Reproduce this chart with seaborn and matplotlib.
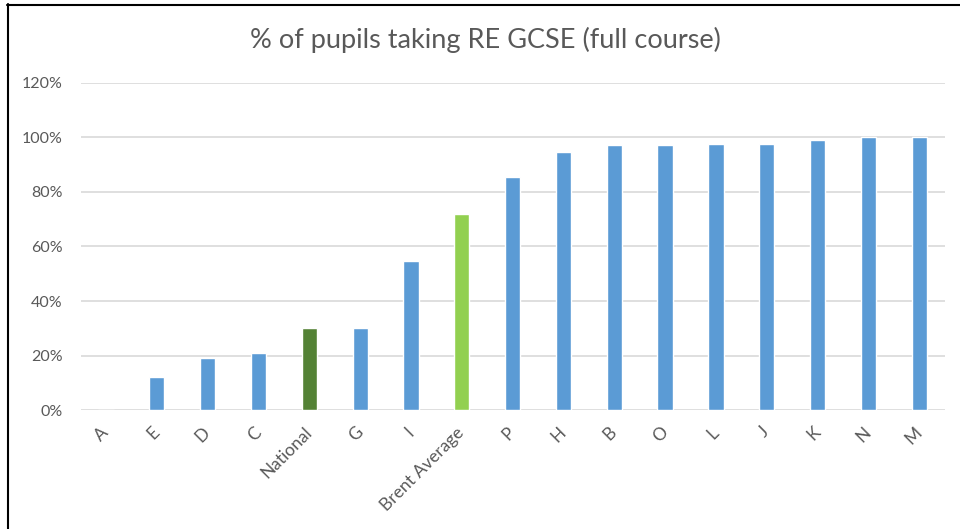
import matplotlib
matplotlib.use("Agg")
import matplotlib.pyplot as plt
from matplotlib.lines import Line2D
from matplotlib.ticker import PercentFormatter
import pandas as pd
import seaborn as sns

# data
schools = ["A", "E", "D", "C", "National", "G", "I", "Brent Average",
           "P", "H", "B", "O", "L", "J", "K", "N", "M"]
pct_taking = [0.0, 12.2, 19.2, 21.0, 30.0, 30.0, 54.8, 71.9,
              85.5, 94.7, 97.1, 97.1, 97.6, 97.6, 98.9, 100.0, 100.0]

blue = "#5B9BD5"
bar_colours = {s: blue for s in schools}
bar_colours["National"] = "#548235"
bar_colours["Brent Average"] = "#92D050"

text_grey = "#595959"

sns.set_theme(style="white")
plt.rcParams["font.family"] = ["Lato", "DejaVu Sans"]

df = pd.DataFrame({"school": schools, "pct": pct_taking})

fig = plt.figure(figsize=(9.6, 5.29), dpi=100)
ax = fig.add_axes([0.084, 0.2244, 0.9, 0.6193])

sns.barplot(data=df, x="school", y="pct", hue="school", palette=bar_colours,
            width=0.3, legend=False, ax=ax, saturation=1)

ax.set_ylim(0, 120)
ax.set_xlim(-0.5, len(schools) - 0.5)
ax.set_yticks(range(0, 121, 20))
ax.yaxis.set_major_formatter(PercentFormatter(decimals=0))
ax.grid(axis="y", color="#D9D9D9", linewidth=1.2)
ax.set_axisbelow(True)
sns.despine(ax=ax, left=True, bottom=True)
ax.set_xlabel("")
ax.set_ylabel("")

ax.tick_params(axis="y", length=0, pad=13, labelsize=11.5, labelcolor=text_grey)
ax.tick_params(axis="x", length=0, pad=14, labelsize=12.5, labelcolor=text_grey)
plt.setp(ax.get_xticklabels(), rotation=45, ha="right", va="center",
         rotation_mode="anchor")

fig.suptitle("% of pupils taking RE GCSE (full course)", x=0.506, y=0.95,
             fontsize=19.5, color=text_grey)

# frame lines of the original screenshot
fig.add_artist(Line2D([7.5 / 960, 7.5 / 960], [0, 1 - 4 / 529],
                      transform=fig.transFigure, color="black", linewidth=1.5))
fig.add_artist(Line2D([7 / 960, 1], [1 - 4.5 / 529, 1 - 4.5 / 529],
                      transform=fig.transFigure, color="black", linewidth=1.5))

fig.savefig("out.png", dpi=100, facecolor="white")
